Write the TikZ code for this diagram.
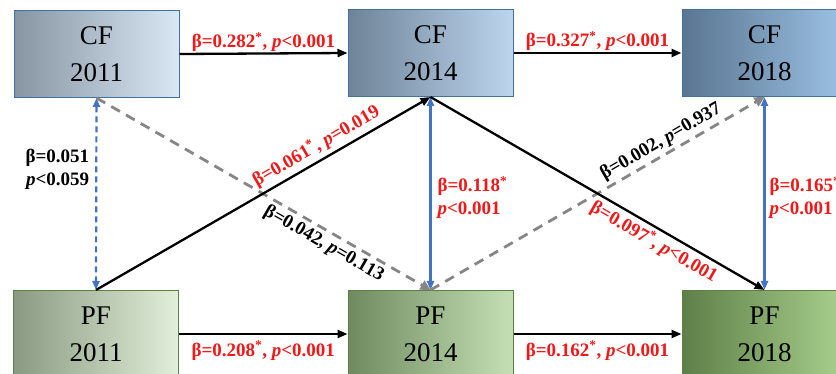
\documentclass[tikz,border=0pt]{standalone}
\usepackage{fontspec}
\setmainfont{Liberation Serif}
\usetikzlibrary{arrows.meta}
\definecolor{cfborder}{HTML}{41719C}
\definecolor{pfborder}{HTML}{5B7F45}
\definecolor{cfaL}{HTML}{8795A3}\definecolor{cfaR}{HTML}{DAE7F4}
\definecolor{cfbL}{HTML}{6F8398}\definecolor{cfbR}{HTML}{BCD6EE}
\definecolor{cfcL}{HTML}{5A7590}\definecolor{cfcR}{HTML}{9DC3E6}
\definecolor{pfaL}{HTML}{8A9A82}\definecolor{pfaR}{HTML}{E2EFDA}
\definecolor{pfbL}{HTML}{708A60}\definecolor{pfbR}{HTML}{C5E0B4}
\definecolor{pfcL}{HTML}{5E7F48}\definecolor{pfcR}{HTML}{A9D18E}
\definecolor{lblred}{HTML}{F01818}
\definecolor{arrblue}{HTML}{4472C4}
\definecolor{arrgray}{HTML}{868686}
\tikzset{
  box/.style={draw, line width=1pt, minimum width=165pt, minimum height=87pt,
    inner sep=0pt, align=center, font=\fontsize{27}{37}\selectfont},
  cfbox/.style={box, draw=cfborder},
  pfbox/.style={box, draw=pfborder},
  lbl/.style={font=\fontsize{19}{23}\selectfont\bfseries, inner sep=1pt},
  redlbl/.style={lbl, text=lblred},
  blklbl/.style={lbl, text=black},
  blackarr/.style={line width=2.3pt, -{Triangle[length=10pt,width=8pt]}},
  grayarr/.style={line width=2.8pt, arrgray, dash pattern=on 10pt off 7pt, -{Triangle[length=10pt,width=10pt]}},
  bluearr/.style={line width=2.2pt, arrblue, {Triangle[length=9pt,width=7pt]}-{Triangle[length=9pt,width=7pt]}},
  bluedash/.style={bluearr, dash pattern=on 6pt off 4pt},
}
\begin{document}
\begin{tikzpicture}[x=1pt,y=-1pt]
\useasboundingbox (0,0) rectangle (836,374);
\clip (0,0) rectangle (836,374);
\node[cfbox, left color=cfaL, right color=cfaR] (cf11) at (96.5,54) {CF\\2011};
\node[cfbox, left color=cfbL, right color=cfbR] (cf14) at (430.5,53) {CF\\2014};
\node[cfbox, left color=cfcL, right color=cfcR] (cf18) at (764.5,53) {CF\\2018};
\node[pfbox, left color=pfaL, right color=pfaR] (pf11) at (96,334) {PF\\2011};
\node[pfbox, left color=pfbL, right color=pfbR] (pf14) at (430.5,334) {PF\\2014};
\node[pfbox, left color=pfcL, right color=pfcR] (pf18) at (764.5,334) {PF\\2018};

% horizontal
\draw[blackarr] (cf11.east) -- node[redlbl, above=1pt, inner sep=0pt] {β=0.282\textsuperscript{*}, \textit{p}<0.001} (cf14.west);
\draw[blackarr] (cf14.east) -- node[redlbl, above=1pt, inner sep=0pt] {β=0.327\textsuperscript{*}, \textit{p}<0.001} (cf18.west);
\draw[blackarr] (pf11.east) -- node[redlbl, below=6pt, inner sep=0pt] {β=0.208\textsuperscript{*}, \textit{p}<0.001} (pf14.west);
\draw[blackarr] (pf14.east) -- node[redlbl, below=6pt, inner sep=0pt] {β=0.162\textsuperscript{*}, \textit{p}<0.001} (pf18.west);

% vertical
\draw[bluedash] (cf11.south) -- node[blklbl, pos=0.37, left=6pt, align=right, inner sep=0pt] {β=0.051\\\textit{p}<0.059} (pf11.north);
\draw[bluearr] (cf14.south) -- node[redlbl, pos=0.52, right=6pt, align=left, inner sep=0pt] {β=0.118\textsuperscript{*}\\\textit{p}<0.001} (pf14.north);
\draw[bluearr] (cf18.south) -- node[redlbl, pos=0.52, right=4pt, align=left, inner sep=0pt] {β=0.165\textsuperscript{*}\\\textit{p}<0.001} (pf18.north);

% diagonals
\draw[grayarr] (cf11.south) -- node[blklbl, sloped, pos=0.70, below=2pt] {β=0.042, \textit{p}=0.113} (pf14.north);
\draw[grayarr] (pf14.north) -- node[blklbl, sloped, pos=0.71, above=2pt] {β=0.002, \textit{p}=0.937} (cf18.south);
\draw[blackarr] (pf11.north) -- node[redlbl, sloped, pos=0.68, above=3pt] {β=0.061\textsuperscript{*}, \textit{p}=0.019} (cf14.south);
\draw[blackarr] (cf14.south) -- node[redlbl, sloped, pos=0.69, below=2pt] {β=0.097\textsuperscript{*}, \textit{p}<0.001} (pf18.north);
\end{tikzpicture}
\end{document}
